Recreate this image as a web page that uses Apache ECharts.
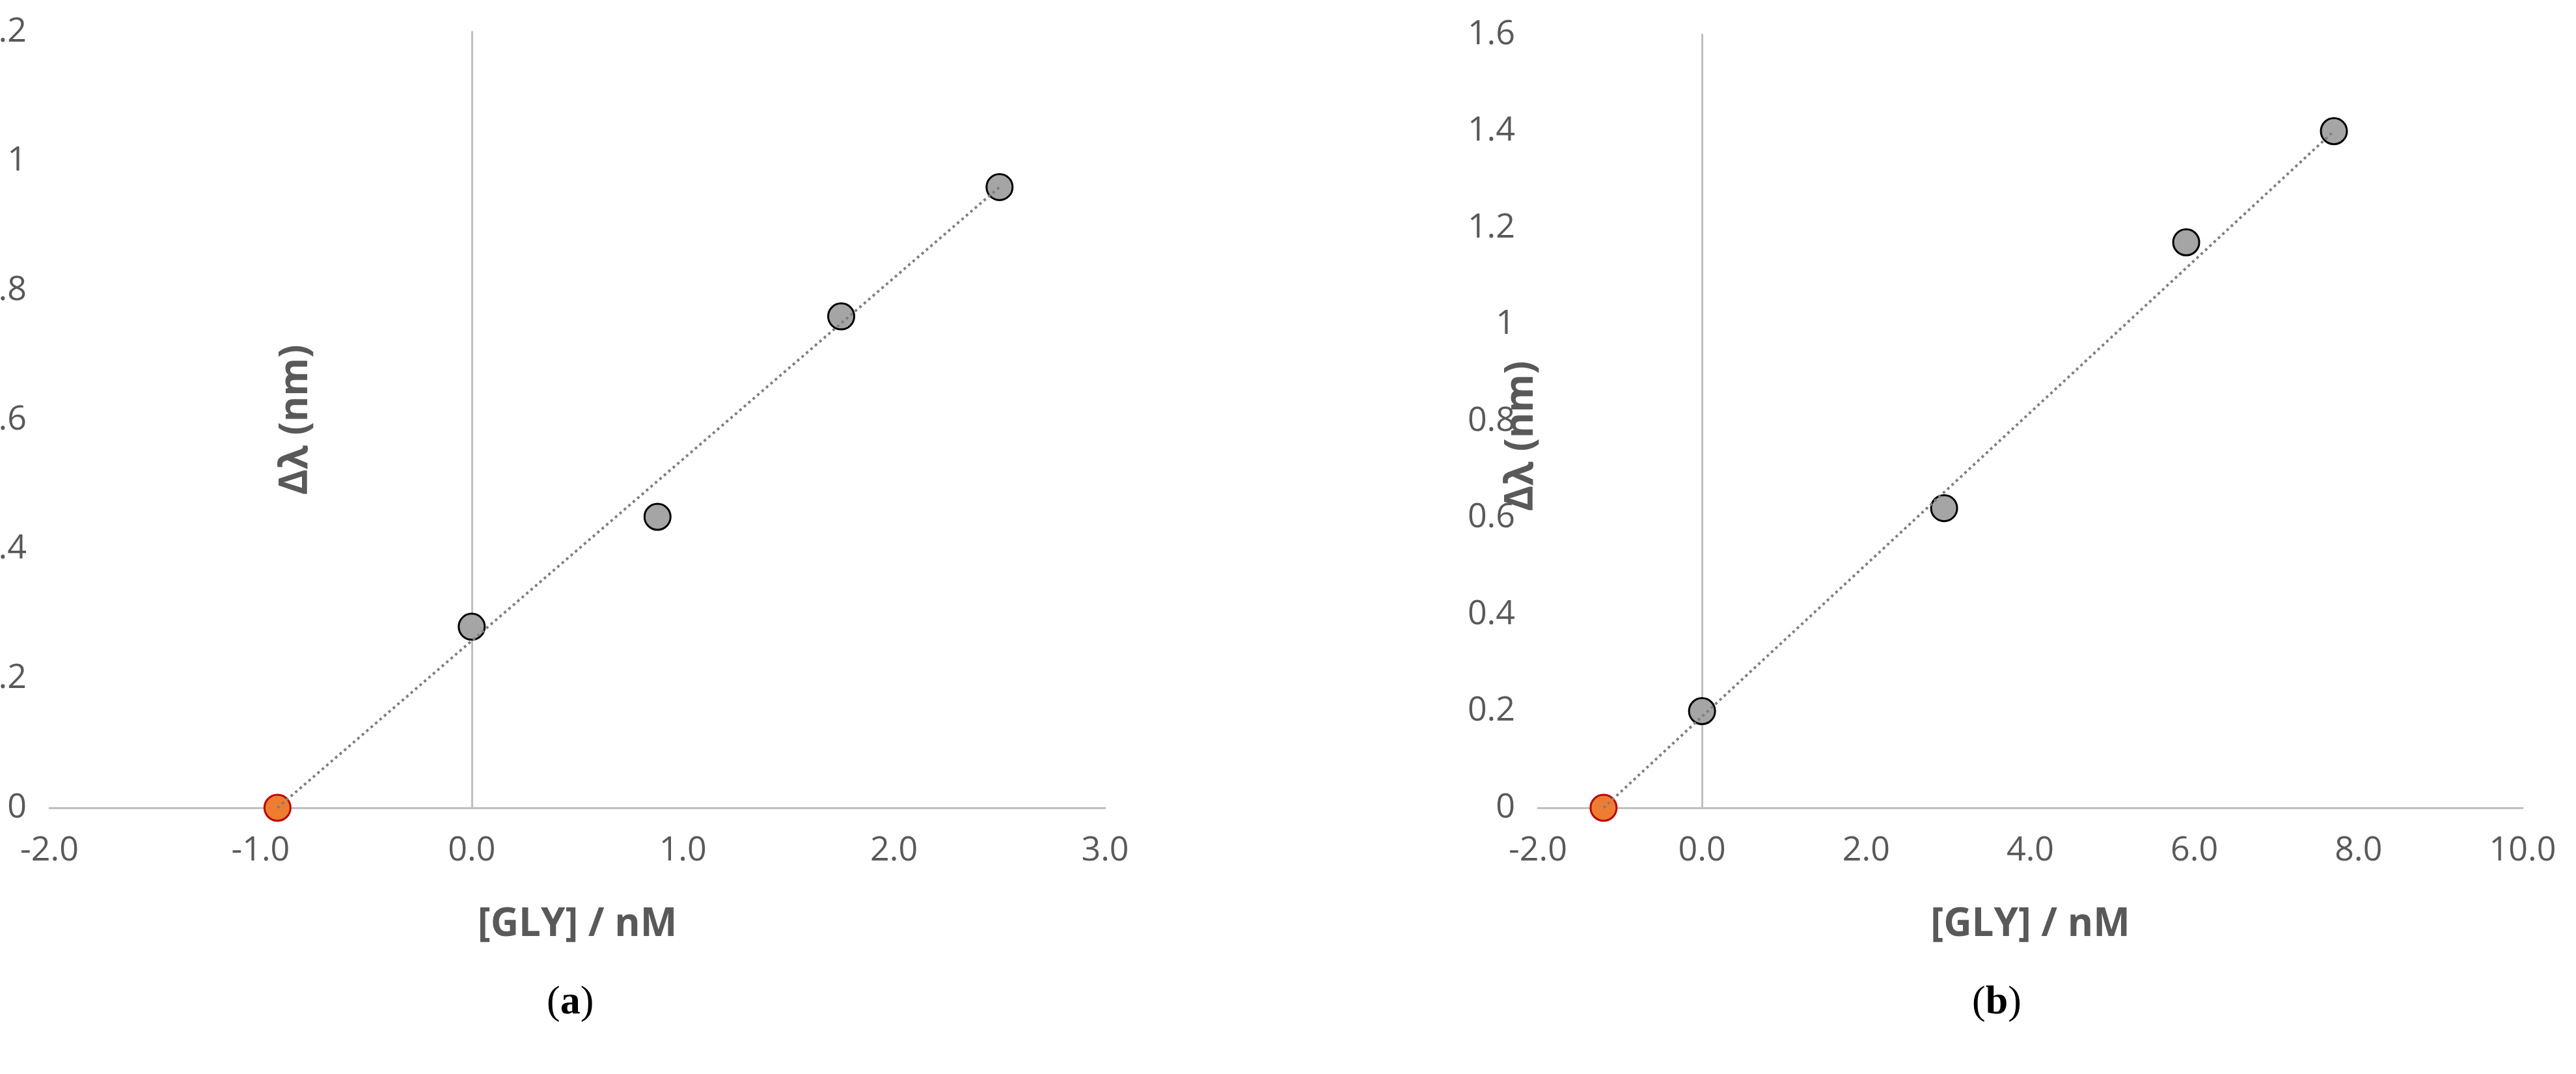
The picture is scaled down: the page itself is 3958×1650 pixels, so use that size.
<!DOCTYPE html>
<html>
<head>
<meta charset="utf-8">
<script src="https://cdn.jsdelivr.net/npm/echarts@6/dist/echarts.min.js"></script>
<style>
    html, body {margin: 0; padding: 0; background: #fff;}
    #main {width: 3958px; height: 1650px;}
</style>
</head>
<body>
<div id="main"></div>
<script>
// panel (a)
const a_points = [[0, 0.28], [0.88, 0.45], [1.75, 0.76], [2.5, 0.96]]
const a_intercept = [[-0.92, 0]]
const a_trend = [[-0.92, 0], [2.5, 0.96]]
// panel (b)
const b_points = [[0, 0.2], [2.95, 0.62], [5.9, 1.17], [7.7, 1.4]]
const b_intercept = [[-1.2, 0]]
const b_trend = [[-1.2, 0], [7.7, 1.4]]

const GREY_TEXT = '#595959'
const FONT = '"Open Sans", "Noto Sans", sans-serif'

const make_x = (idx, min, max, interval) => ({
    type: 'value',
    gridIndex: idx,
    min, max, interval,
    name: '[GLY] / nM',
    nameLocation: 'middle',
    nameGap: 150,
    nameTextStyle: {color: GREY_TEXT, fontSize: 60, fontWeight: 'bold', fontFamily: FONT},
    splitLine: {show: false},
    axisTick: {show: false},
    axisLine: {lineStyle: {color: '#bfbfbf', width: 3}},
    axisLabel: {color: GREY_TEXT, fontSize: 52, fontFamily: FONT, margin: 40,
        formatter: v => v.toFixed(1)},
})

const make_y = (idx, max) => ({
    type: 'value',
    gridIndex: idx,
    min: 0, max, interval: 0.2,
    splitLine: {show: false},
    axisTick: {show: false},
    axisLine: {onZero: true, lineStyle: {color: '#bfbfbf', width: 3}},
    axisLabel: {color: GREY_TEXT, fontSize: 52, fontFamily: FONT, margin: 35,
        formatter: v => String(Math.round(v * 10) / 10)},
})

const make_series = (idx, points, intercept, trend) => [
    {
        type: 'line', xAxisIndex: idx, yAxisIndex: idx, data: trend,
        showSymbol: false, silent: true, animation: false,
        lineStyle: {color: '#7f7f7f', width: 4, type: [4, 5]},
    },
    {
        type: 'scatter', xAxisIndex: idx, yAxisIndex: idx, data: points,
        symbolSize: 40, animation: false,
        itemStyle: {color: '#a5a5a5', borderColor: '#000', borderWidth: 3, opacity: 1},
    },
    {
        type: 'scatter', xAxisIndex: idx, yAxisIndex: idx, data: intercept,
        symbolSize: 40, animation: false,
        itemStyle: {color: '#ed7d31', borderColor: '#c00000', borderWidth: 3, opacity: 1},
    },
]

const caption = (letter, left) => ({
    type: 'text',
    left, top: 1510,
    style: {
        text: `{p|(}{b|${letter}}{p|)}`,
        rich: {
            p: {fontFamily: '"Liberation Serif", serif', fontSize: 62, fill: '#000'},
            b: {fontFamily: '"Liberation Serif", serif', fontSize: 62, fontWeight: 'bold', fill: '#000'},
        },
    },
})

// y axis title, centred at (x, y) and turned upright
const y_title = (x, y) => ({
    type: 'text',
    x, y,
    rotation: Math.PI / 2,
    style: {
        text: 'Δλ (nm)',
        fontFamily: FONT, fontSize: 60, fontWeight: 'bold', fill: GREY_TEXT,
        align: 'center', verticalAlign: 'middle',
    },
})

const chart = echarts.init(document.getElementById('main'))
chart.setOption({
    animation: false,
    grid: [
        {left: 76, width: 1622, top: 49, height: 1192, outerBoundsMode: 'none'},
        {left: 2363, width: 1513, top: 53, height: 1188, outerBoundsMode: 'none'},
    ],
    xAxis: [make_x(0, -2, 3, 1), make_x(1, -2, 10, 2)],
    yAxis: [make_y(0, 1.2), make_y(1, 1.6)],
    series: [
        ...make_series(0, a_points, a_intercept, a_trend),
        ...make_series(1, b_points, b_intercept, b_trend),
    ],
    graphic: [
        caption('a', 840), caption('b', 3030),
        y_title(455, 645), y_title(2338, 670),
    ],
})
</script>
</body>
</html>
